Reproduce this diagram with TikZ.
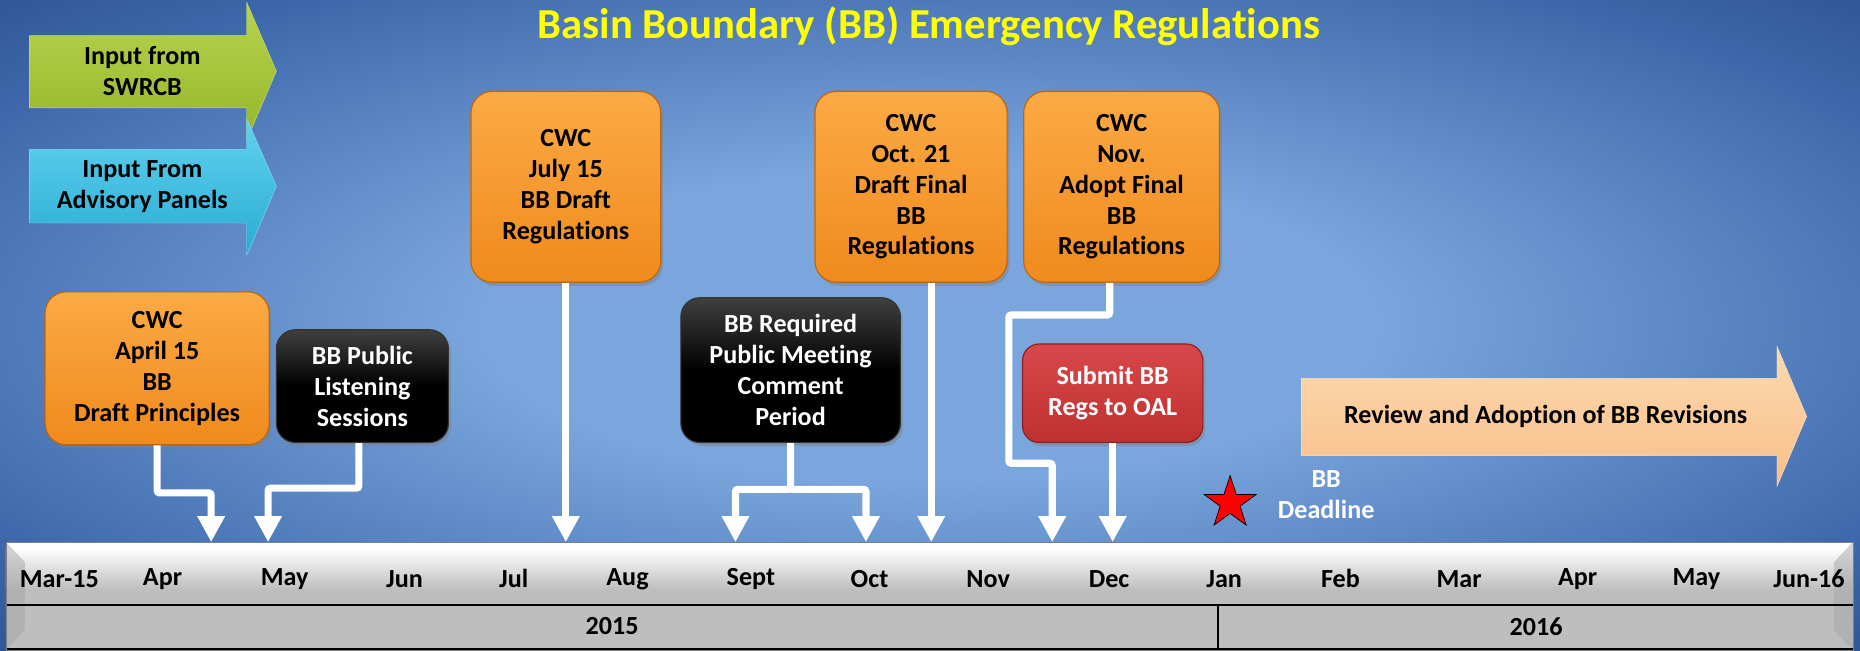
\documentclass[tikz,border=0pt]{standalone}
\usepackage{fontspec}
\setmainfont{Carlito}[Ligatures={NoCommon,NoRare}]
\usetikzlibrary{positioning,arrows.meta,shadows,shapes.geometric}

\definecolor{bgdark}{HTML}{12316E}
\definecolor{bgmid}{HTML}{3D67AA}
\definecolor{bglight}{HTML}{7AA6DD}
\definecolor{orangetop}{HTML}{FBAA45}
\definecolor{orangebot}{HTML}{F08A1C}
\definecolor{orangeedge}{HTML}{C0650F}
\definecolor{redtop}{HTML}{D8484A}
\definecolor{redbot}{HTML}{BF3030}
\definecolor{rededge}{HTML}{8E2020}
\definecolor{greentop}{HTML}{B8D44E}
\definecolor{greenbot}{HTML}{96B42C}
\definecolor{cyantop}{HTML}{62D2EE}
\definecolor{cyanbot}{HTML}{28ACD4}
\definecolor{peachtop}{HTML}{FDD9B0}
\definecolor{peachbot}{HTML}{F8BF88}
\definecolor{bargray}{HTML}{BEBEBE}
\definecolor{titleyellow}{HTML}{FFFF00}

% keep t and i apart (Carlito joins them)
\newcommand\tisep{t\kern0pt i}

\pgfdeclareradialshading{bgglow}{\pgfpoint{0bp}{0bp}}{%
  color(0bp)=(bglight); color(12bp)=(bglight); color(30bp)=(bgmid);
  color(48bp)=(bgdark); color(75bp)=(bgdark)}

\begin{document}
\begin{tikzpicture}[x=1pt,y=-1pt,
    txt/.style={font=\bfseries\fontsize{22}{26}\selectfont, align=center},
    cwcbox/.style={txt, rounded corners=18pt, draw=orangeedge, line width=1pt,
      top color=orangetop, bottom color=orangebot, inner sep=0pt,
      drop shadow={shadow xshift=2pt, shadow yshift=-3pt, opacity=.45}},
    blackbox/.style={txt, text=white, rounded corners=16pt, draw=black!80,
      line width=1pt, top color=black!75, bottom color=black, middle color=black,
      inner sep=0pt, drop shadow={shadow xshift=2pt, shadow yshift=-3pt, opacity=.45}},
    redbox/.style={txt, text=white, rounded corners=14pt, draw=rededge,
      line width=1pt, top color=redtop, bottom color=redbot, inner sep=0pt,
      drop shadow={shadow xshift=2pt, shadow yshift=-3pt, opacity=.45}},
    flow/.style={draw=white, line width=6pt, rounded corners=2pt,
      -{Triangle[width=22pt,length=22pt]}},
    monthlbl/.style={txt, text=black},
  ]
  \useasboundingbox (0,0) rectangle (1568,548);
  \shade[shading=bgglow] (0,0) rectangle (1568,548);

  % title
  \node[txt, text=titleyellow, font=\bfseries\fontsize{36}{40}\selectfont] (ttl) at (783,22)
    {Basin Boundary (BB) Emergency Regula\tisep{}ons};

  % input arrows on the left
  \shade[top color=greentop, bottom color=greenbot, draw=greentop!80!white]
    (25,30) -- (208,30) -- (208,2) -- (233,60) -- (208,118) -- (208,91) -- (25,91) -- cycle;
  \node[txt] (swrcb) at (120,60) {Input from\\SWRCB};
  \shade[top color=cyantop, bottom color=cyanbot, draw=cyantop!80!white]
    (25,126) -- (208,126) -- (208,100) -- (233,157) -- (208,215) -- (208,188) -- (25,188) -- cycle;
  \node[txt] (panels) at (120,157) {Input From\\Advisory Panels};

  % review arrow
  \shade[top color=peachtop, bottom color=peachbot, draw=peachtop!80!white]
    (1097,319) -- (1498,319) -- (1498,292) -- (1523,351) -- (1498,410) -- (1498,384) -- (1097,384) -- cycle;
  \node[txt] (review) at (1303,351) {Review and Adop\tisep{}on of BB Revisions};

  % timeline bar
  \fill[bargray] (5,457) rectangle (1562,548);
  \shade[top color=white, bottom color=bargray] (5,462) rectangle (1562,497);
  \fill[white] (5,457) rectangle (1562,463);
  \fill[black!35, opacity=.5] (5,457) -- (21,474) -- (21,531) -- (5,548) -- cycle;
  \fill[black!35, opacity=.5] (1562,457) -- (1546,474) -- (1546,531) -- (1562,548) -- cycle;
  \draw[line width=1.5pt] (5,510) -- (1562,510);
  \draw[line width=1.5pt] (5,547) -- (1562,547);
  \draw[line width=1.5pt] (1027,510) -- (1027,547);
  \draw[black!50, line width=.6pt] (5,457) rectangle (1562,548);

  \foreach \m/\x in {Mar-15/50, Apr/137, May/240, Jun/341, Jul/433, Aug/529, Sept/633,
      Oct/733, Nov/833, Dec/935, Jan/1032, Feb/1130, Mar/1230, Apr/1330, May/1430, Jun-16/1525}
    \node[monthlbl] (m\x) at (\x,488) {\m};
  \node[monthlbl] (y2015) at (516,528) {2015};
  \node[monthlbl] (y2016) at (1295,528) {2016};

  % points on the timeline
  \coordinate (t-apr) at (178,457);
  \coordinate (t-may) at (226,457);
  \coordinate (t-jul) at (477,457);
  \coordinate (t-sep) at (620,457);
  \coordinate (t-oct) at (730,457);
  \coordinate (t-late) at (785,457);
  \coordinate (t-nov) at (887,457);
  \coordinate (t-dec) at (938,457);

  % boxes
  \node[cwcbox, minimum width=189pt, minimum height=129pt] (cwcapr) at (132.5,310.5)
    {CWC\\April 15\\BB\\Draft Principles};
  \node[blackbox, minimum width=145pt, minimum height=95pt] (listen) at (305.5,325.5)
    {BB Public\\Listening\\Sessions};
  \node[cwcbox, minimum width=160pt, minimum height=161pt] (cwcjul) at (477,157.5)
    {CWC\\July 15\\BB Draft\\Regula\tisep{}ons};
  \node[blackbox, minimum width=185pt, minimum height=122pt] (comment) at (666.5,312)
    {BB Required\\Public Meeting\\Comment\\Period};
  \node[cwcbox, minimum width=162pt, minimum height=161pt] (cwcoct) at (768,157.5)
    {CWC\\Oct. 21\\Draft Final\\BB\\Regula\tisep{}ons};
  \node[cwcbox, minimum width=165pt, minimum height=161pt, right=13pt of cwcoct] (cwcnov)
    {CWC\\Nov.\\Adopt Final\\BB\\Regula\tisep{}ons};
  \node[redbox, minimum width=152pt, minimum height=83pt] (oal) at (938,331.5)
    {Submit BB\\Regs to OAL};

  % deadline
  \node[star, star points=5, star point ratio=2.6, fill=red, draw=black, line width=.6pt,
    minimum size=46pt, inner sep=0pt] (deadstar) at (1037,424) {};
  \node[txt, text=white] (deadline) at (1118,417) {BB\\Deadline};

  % connectors
  \draw[flow] (cwcapr.south) -- ++(0,40) -| (t-apr);
  \draw[flow] ([xshift=-3pt]listen.south) -- ++(0,38) -| (t-may);
  \draw[flow] (cwcjul.south) -- (t-jul);
  \draw[flow] (comment.south) -- ++(0,39) coordinate (split) -| (t-sep);
  \draw[flow] (split) -| (t-oct);
  \draw[flow] ([xshift=17pt]cwcoct.south) -- (t-late);
  \draw[flow] ([xshift=-10pt]cwcnov.south) -- ++(0,27) -- ++(-85,0) -- ++(0,125) -| (t-nov);
  \draw[flow] (oal.south) -- (t-dec);
\end{tikzpicture}
\end{document}
